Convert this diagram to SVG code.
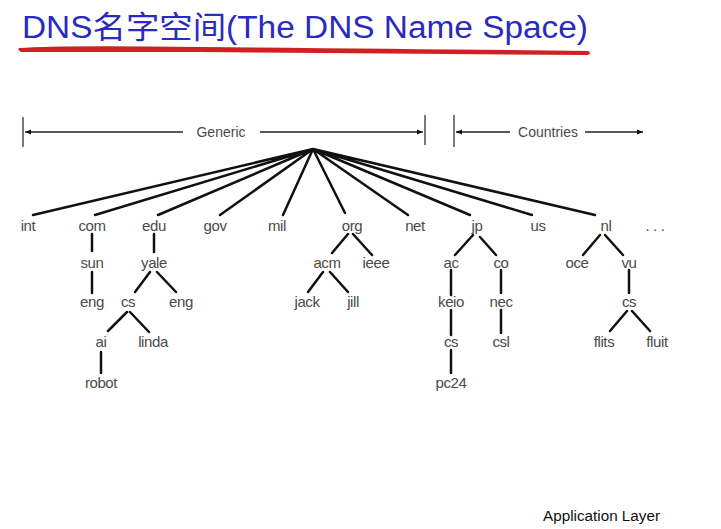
<svg xmlns="http://www.w3.org/2000/svg" width="721" height="529" viewBox="0 0 721 529">
<defs>
<marker id="ah" viewBox="0 0 10 10" refX="10" refY="5" markerWidth="8" markerHeight="6" orient="auto-start-reverse" markerUnits="userSpaceOnUse">
<path d="M0,1 L10,5 L0,9 Z" fill="#111"/>
</marker>
</defs>
<style>
.lbl{font-family:"Liberation Sans",Arial,sans-serif;font-size:15px;fill:#4a4a4a;text-anchor:middle;letter-spacing:-0.4px}
.hdr{font-family:"Liberation Sans",Arial,sans-serif;font-size:14px;fill:#4a4a4a;text-anchor:middle}
.e{stroke:#111;stroke-width:2.5;fill:none;stroke-linecap:round}
.rule{stroke:#222;stroke-width:1.3;fill:none}
.tick{stroke:#333;stroke-width:1.3}
</style>
<rect width="721" height="529" fill="#fff"/>
<g id="title">
<text x="22" y="38" font-family="'Comic Sans MS','Liberation Sans','Noto Sans CJK SC',sans-serif" font-size="31" fill="#2a2abf" textLength="566" lengthAdjust="spacingAndGlyphs">DNS名字空间(The DNS Name Space)</text>
<path d="M19,48 Q60,45 200,47 Q420,49 588,51 Q592,53 588,55 Q420,54 200,52 Q60,52 21,52 Q17,50 19,48 Z" fill="#d02020"/>
</g>
<g id="header">
<line class="tick" x1="23" y1="117" x2="23" y2="147"/>
<line class="rule" x1="183" y1="132" x2="25" y2="132" marker-end="url(#ah)"/>
<text class="hdr" x="221" y="137">Generic</text>
<line class="rule" x1="260" y1="132" x2="423" y2="132" marker-end="url(#ah)"/>
<line class="tick" x1="425" y1="115" x2="425" y2="145"/>
<line class="tick" x1="454" y1="115" x2="454" y2="147"/>
<line class="rule" x1="510" y1="132" x2="456" y2="132" marker-end="url(#ah)"/>
<text class="hdr" x="548" y="137">Countries</text>
<line class="rule" x1="585" y1="132" x2="643" y2="132" marker-end="url(#ah)"/>
</g>
<g id="connectors">
<path class="e" d="M313,149 L33,215 M313,149 L95,215 M313,149 L158,215 M313,149 L220,215 M313,149 L283,215 M313,149 L345,213 M313,149 L408,215 M313,149 L470,215 M313,149 L532,215 M313,149 L595,215"/>
<path class="e" d="M92,234 L92,251 M92,272 L92,293"/>
<path class="e" d="M154,234 L154,252 M150,272 L135,292 M157,272 L176,292 M127,312 L108,331 M130,312 L149,332 M101,352 L101,373"/>
<path class="e" d="M348,234 L332,253 M353,234 L372,255 M323,272 L308,292 M330,272 L348,292"/>
<path class="e" d="M473,235 L455,255 M480,237 L496,255 M451,270 L451,295 M451,310 L451,335 M451,350 L451,373 M501,270 L501,293 M501,310 L501,333"/>
<path class="e" d="M600,235 L583,255 M605,235 L623,255 M629,270 L629,293 M627,311 L610,331 M632,311 L650,331"/>
</g>
<g id="n-int"><text class="lbl" x="28" y="231">int</text></g>
<g id="n-com"><text class="lbl" x="92" y="231">com</text></g>
<g id="n-edu"><text class="lbl" x="154" y="231">edu</text></g>
<g id="n-gov"><text class="lbl" x="215" y="231">gov</text></g>
<g id="n-mil"><text class="lbl" x="277" y="231">mil</text></g>
<g id="n-org"><text class="lbl" x="352" y="231">org</text></g>
<g id="n-net"><text class="lbl" x="415" y="231">net</text></g>
<g id="n-jp"><text class="lbl" x="477" y="231">jp</text></g>
<g id="n-us"><text class="lbl" x="538" y="231">us</text></g>
<g id="n-nl"><text class="lbl" x="606" y="231">nl</text></g>
<g id="n-dots"><text class="lbl" x="655" y="231">. . .</text></g>
<g id="n-sun"><text class="lbl" x="92" y="268">sun</text></g>
<g id="n-yale"><text class="lbl" x="154" y="268">yale</text></g>
<g id="n-acm"><text class="lbl" x="327" y="268">acm</text></g>
<g id="n-ieee"><text class="lbl" x="376" y="268">ieee</text></g>
<g id="n-ac"><text class="lbl" x="451" y="268">ac</text></g>
<g id="n-co"><text class="lbl" x="501" y="268">co</text></g>
<g id="n-oce"><text class="lbl" x="577" y="268">oce</text></g>
<g id="n-vu"><text class="lbl" x="629" y="268">vu</text></g>
<g id="n-sun-eng"><text class="lbl" x="92" y="307">eng</text></g>
<g id="n-yale-cs"><text class="lbl" x="128" y="307">cs</text></g>
<g id="n-yale-eng"><text class="lbl" x="181" y="307">eng</text></g>
<g id="n-jack"><text class="lbl" x="307" y="307">jack</text></g>
<g id="n-jill"><text class="lbl" x="353" y="307">jill</text></g>
<g id="n-keio"><text class="lbl" x="451" y="307">keio</text></g>
<g id="n-nec"><text class="lbl" x="501" y="307">nec</text></g>
<g id="n-vu-cs"><text class="lbl" x="629" y="307">cs</text></g>
<g id="n-ai"><text class="lbl" x="101" y="347">ai</text></g>
<g id="n-linda"><text class="lbl" x="153" y="347">linda</text></g>
<g id="n-keio-cs"><text class="lbl" x="451" y="347">cs</text></g>
<g id="n-csl"><text class="lbl" x="501" y="347">csl</text></g>
<g id="n-flits"><text class="lbl" x="604" y="347">flits</text></g>
<g id="n-fluit"><text class="lbl" x="657" y="347">fluit</text></g>
<g id="n-robot"><text class="lbl" x="101" y="388">robot</text></g>
<g id="n-pc24"><text class="lbl" x="451" y="388">pc24</text></g>
<g id="footer"><text x="543" y="521" font-family="'Comic Sans MS','Liberation Sans',sans-serif" font-size="14" fill="#111" textLength="117" lengthAdjust="spacingAndGlyphs">Application Layer</text></g>
</svg>
